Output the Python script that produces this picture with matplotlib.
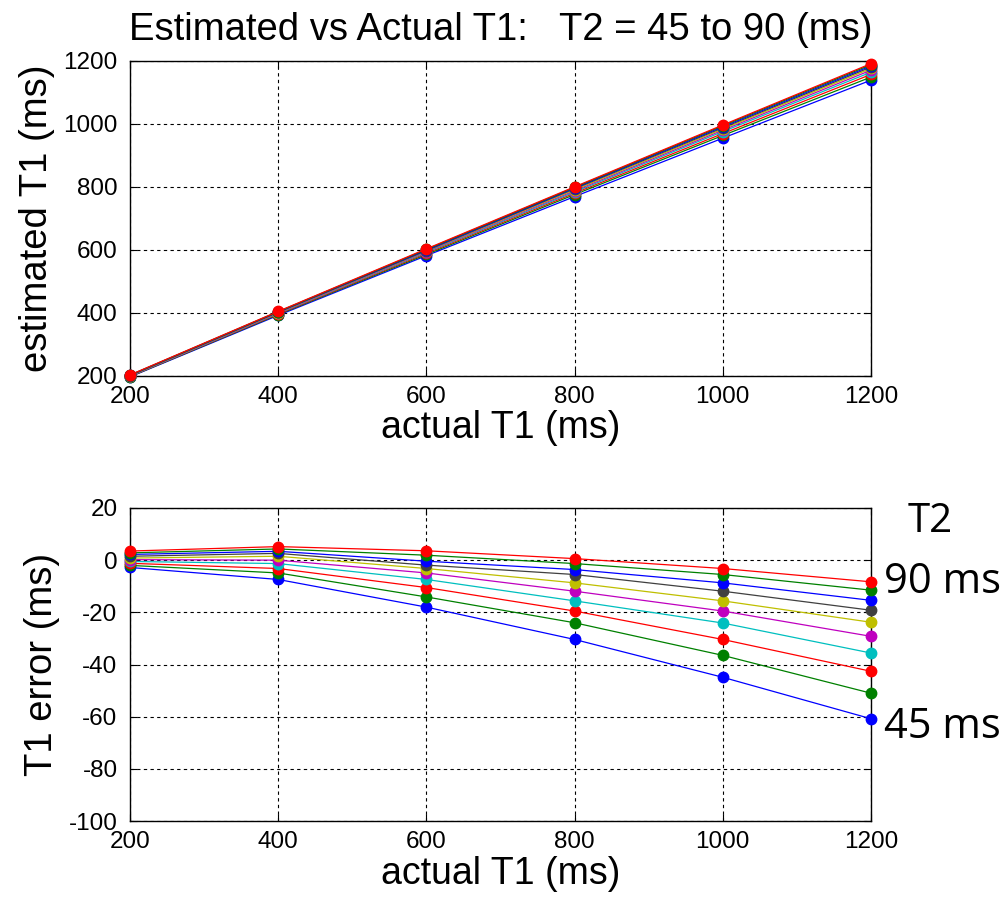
import numpy as np
import matplotlib
matplotlib.use("Agg")
import matplotlib.pyplot as plt

plt.rcParams['font.family'] = ['Liberation Sans', 'DejaVu Sans']
plt.rcParams['axes.unicode_minus'] = False

# actual T1 values (ms)
actual_t1 = [200, 400, 600, 800, 1000, 1200]
# T2 values (ms), one curve each
t2_values = [45, 50, 55, 60, 65, 70, 75, 80, 85, 90]

# T1 error (ms), one row per T2
t1_error = [
    [-2.8, -7.4, -18.0, -30.4, -44.9, -60.8],
    [-2.0, -4.9, -14.1, -24.0, -36.5, -51.0],
    [-1.2, -3.2, -10.5, -19.5, -30.4, -42.6],
    [-0.5, -1.3, -7.4, -15.6, -24.1, -35.6],
    [0.2, 0.0, -4.9, -11.9, -19.5, -29.2],
    [0.8, 1.5, -3.2, -8.7, -15.6, -23.8],
    [1.5, 2.6, -1.9, -5.5, -11.9, -19.2],
    [2.2, 3.4, -0.4, -3.6, -8.7, -15.4],
    [2.8, 4.3, 1.9, -1.3, -5.5, -11.5],
    [3.5, 5.2, 3.6, 0.6, -3.2, -8.3],
]

# old matlab color order
colors = [(0, 0, 1), (0, 0.5, 0), (1, 0, 0), (0, 0.75, 0.75),
          (0.75, 0, 0.75), (0.75, 0.75, 0), (0.25, 0.25, 0.25)]

fig = plt.figure(figsize=(10.06, 9.01), dpi=100)
W, H = 1006.0, 901.0
ax1 = fig.add_axes([130 / W, 1 - 376 / H, 741 / W, 315 / H])
ax2 = fig.add_axes([130 / W, 1 - 821 / H, 741 / W, 313 / H])

x = np.array(actual_t1)
for i, t2 in enumerate(t2_values):
    c = colors[i % len(colors)]
    err = np.array(t1_error[i])
    ax1.plot(x, x + err, '-o', color=c, lw=0.9, ms=7.5, mec=c, mfc=c, clip_on=False, zorder=3)
    ax2.plot(x, err, '-o', color=c, lw=0.9, ms=7.5, mec=c, mfc=c, clip_on=False, zorder=3)

for ax in (ax1, ax2):
    ax.set_xlim(200, 1200)
    ax.set_xticks(actual_t1)
    ax.grid(True, color='black', linestyle=(0, (3, 3)), lw=0.8)
    ax.tick_params(direction='in', top=True, right=True, labelsize=17.5, length=5)
    ax.tick_params(axis='y', pad=9)
    ax.tick_params(axis='x', pad=7)
    for s in ax.spines.values():
        s.set_linewidth(1.0)
    ax.set_xlabel('actual T1 (ms)', fontsize=27, labelpad=2)

ax1.set_ylim(200, 1200)
ax1.set_yticks([200, 400, 600, 800, 1000, 1200])
ax1.set_ylabel('estimated T1 (ms)', fontsize=27.5, labelpad=6)
ax1.set_title('Estimated vs Actual T1:   T2 = 45 to 90 (ms)', fontsize=27.5, pad=15)

ax2.set_ylim(-100, 20)
ax2.set_yticks([-100, -80, -60, -40, -20, 0, 20])
ax2.set_ylabel('T1 error (ms)', fontsize=27.5, labelpad=6)

side = ['Open Sans', 'DejaVu Sans']
fig.text(930 / W, 1 - 522 / H, 'T2', fontsize=29, family=side, ha='center', va='center')
fig.text(884 / W, 1 - 582 / H, '90 ms', fontsize=30, family=side, ha='left', va='center')
fig.text(884 / W, 1 - 727 / H, '45 ms', fontsize=30, family=side, ha='left', va='center')

fig.savefig('out.png', dpi=100)
